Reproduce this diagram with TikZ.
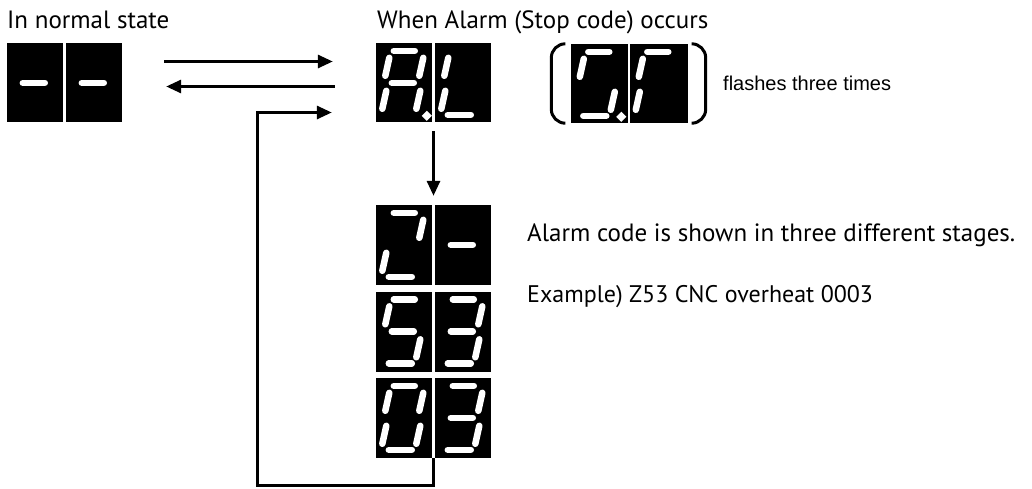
\documentclass[tikz,border=0pt]{standalone}
\usepackage{fontspec}
\setmainfont{PT Sans}
\newfontfamily\arialfont{Liberation Sans}
\usetikzlibrary{arrows.meta}

\begin{document}
\begin{tikzpicture}[x=1pt,y=-1pt,
  disp/.style={fill=black,inner sep=0pt,minimum width=115pt,minimum height=79pt},
  stage/.style={disp,minimum height=80pt},
  divider/.style={white,line width=2.5pt},
  segline/.style={white,line width=6.5pt,line cap=round},
  sa/.style={insert path={(18,8) -- (39,8)}},
  sb/.style={insert path={(47.5,15) -- (43.5,33)}},
  sc/.style={insert path={(44.5,48) -- (40.5,66)}},
  sd/.style={insert path={(13,72) -- (36,72)}},
  se/.style={insert path={(10.5,48) -- (6.5,66)}},
  sf/.style={insert path={(13.5,15) -- (9.5,33)}},
  sg/.style={insert path={(16,40) -- (38,40)}},
  sp/.style={insert path={(51,73) circle[radius=0.5pt]}},
  digit/.pic={\foreach \s in #1 {\draw[segline,s\s];}},
  flow/.style={line width=3pt,-{Triangle[length=15pt,width=13pt]}},
  paren/.style={line width=3pt,rounded corners=14pt},
  txt/.style={anchor=base west,inner sep=0pt,font=\fontsize{25}{30}\selectfont}]
\useasboundingbox (0,0) rectangle (1032,488);

% displays
\node[disp] (normal) at (64.5,82.5) {};
\node[disp] (alarm) at (433.5,82.5) {};
\node[disp,minimum width=117pt] (flash) at (629,83.5) {};
\node[stage] (stageA) at (433.5,245) {};
\node[stage] (stageB) at (433.5,331.5) {};
\node[stage] (stageC) at (433.5,418) {};

\foreach \disp/\lseg/\rseg in {normal/g/g,alarm/{a,b,c,e,f,g,p}/{d,e,f},%
   flash/{a,c,d,f,p}/{a,e,f},stageA/{a,b,d,e}/g,%
   stageB/{a,c,d,f,g}/{a,b,c,d,g},stageC/{a,b,c,d,e,f}/{a,b,c,d,g}} {
   \pic at (\disp.north west) {digit=\lseg};
   \pic at ([xshift=59pt]\disp.north west) {digit=\rseg};
   \draw[divider] (\disp.north) -- (\disp.south);
}

% brackets round the flashing code
\draw[paren] ([xshift=-6pt]flash.north west) -- ([xshift=-19pt]flash.north west)
   -- ([xshift=-19pt]flash.south west) -- ([xshift=-6pt]flash.south west);
\draw[paren] ([xshift=5pt]flash.north east) -- ([xshift=18pt]flash.north east)
   -- ([xshift=18pt]flash.south east) -- ([xshift=5pt]flash.south east);

% texts
\node[txt] (normaltxt) at (7,28) {In normal state};
\node[txt] (alarmtxt) at (377,28) {When Alarm (Stop code) occurs};
\node[txt,font=\arialfont\fontsize{20}{24}\selectfont] (flashtxt) at (723,90) {flashes three times};
\node[txt] (stagetxt) at (527,241) {Alarm code is shown in three different stages.};
\node[txt,font=\fontsize{24}{29}\selectfont] (exampletxt) at (527,302) {Example) Z53 CNC overheat 0003};

% arrows
\coordinate (loop) at (257,485);
\draw[flow] ([xshift=42pt,yshift=21pt]normal.east) -- ([xshift=-43pt,yshift=21pt]alarm.west);
\draw[flow] ([xshift=-41pt,yshift=-4pt]alarm.west) -- ([xshift=44pt,yshift=-4pt]normal.east);
\draw[flow] ([yshift=-9pt]alarm.south) -- ([yshift=9pt]stageA.north);
\draw[flow] (stageC.south) -- (stageC.south |- loop) -- (loop)
   |- ([xshift=-44pt,yshift=-30pt]alarm.west);
\end{tikzpicture}
\end{document}
